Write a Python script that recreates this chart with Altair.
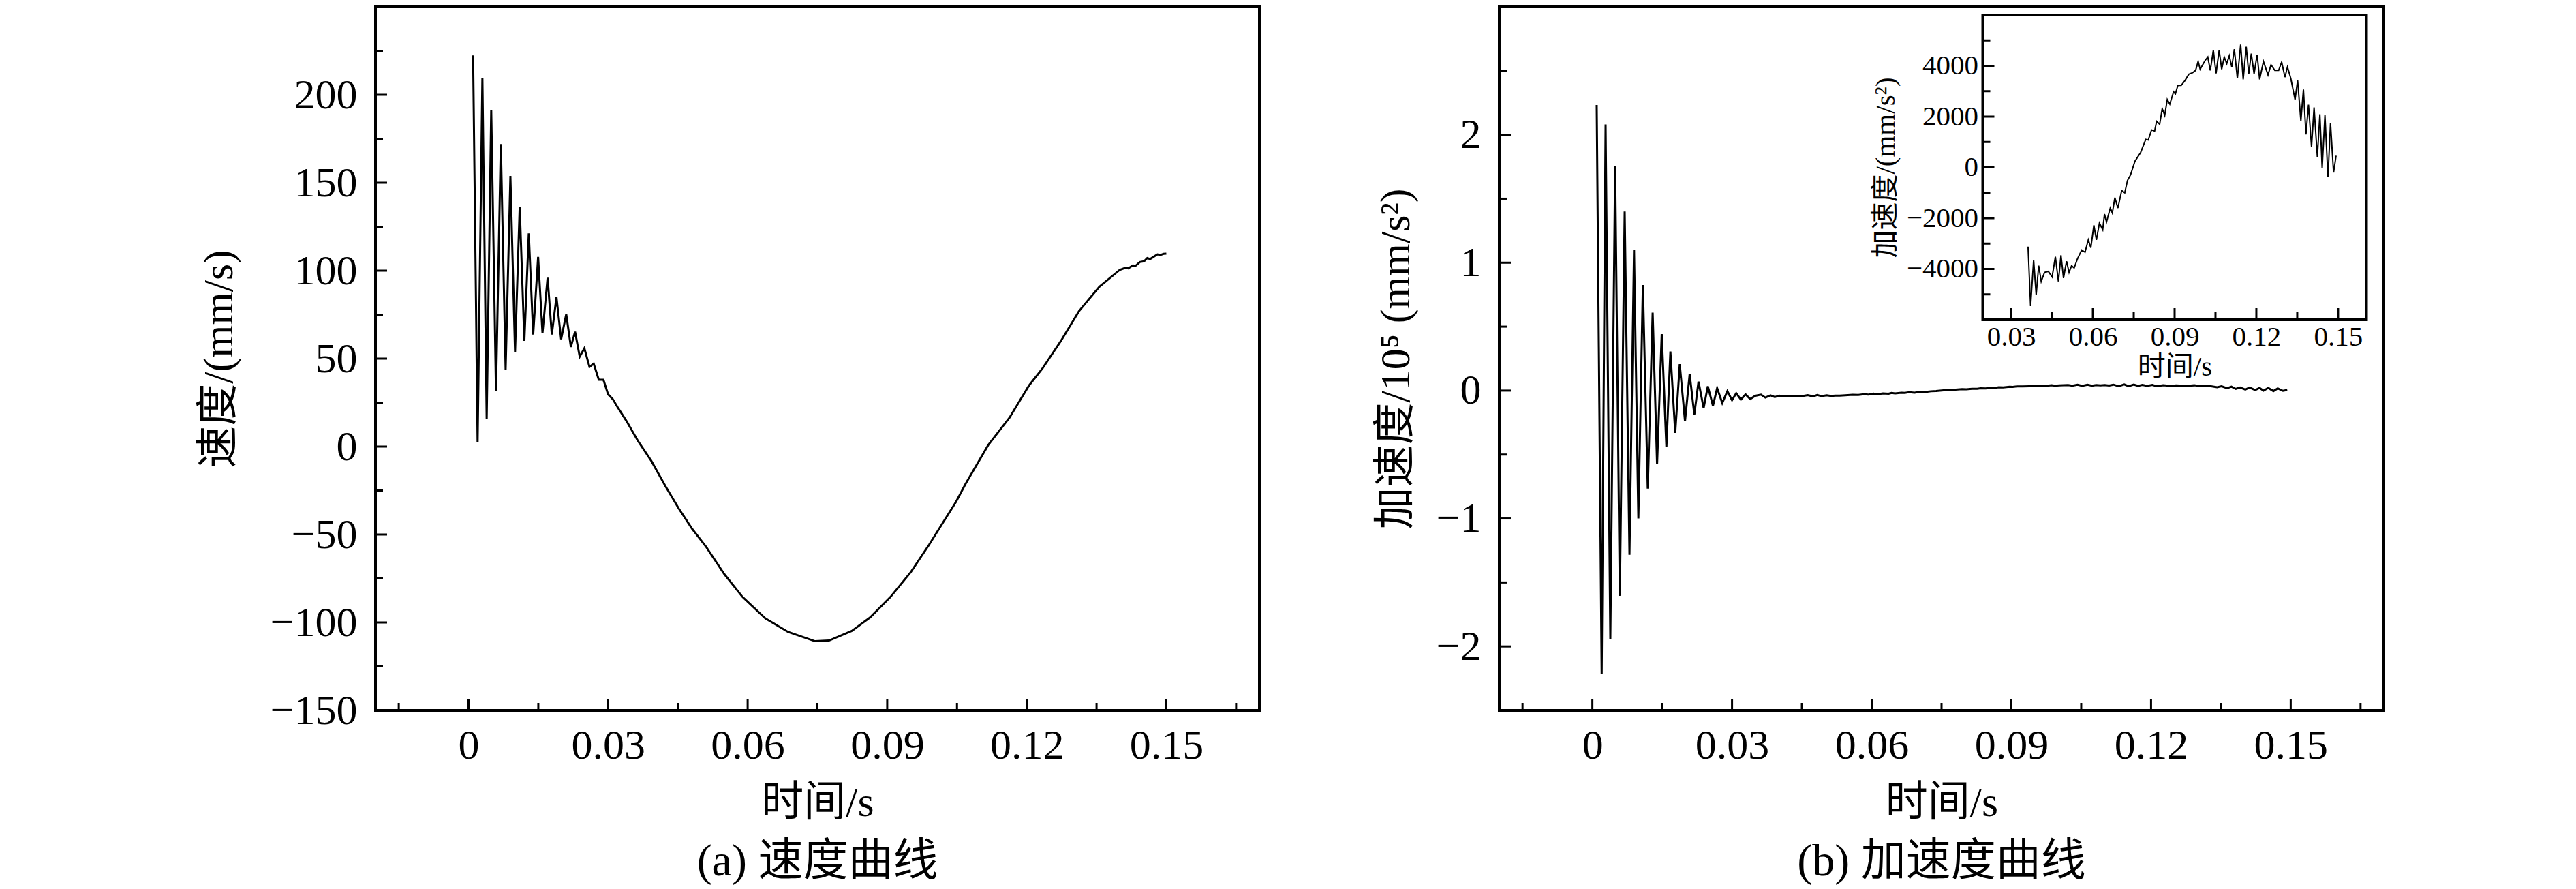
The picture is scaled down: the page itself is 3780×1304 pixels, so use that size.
import altair as alt
import pandas as pd

# ---------------- data ----------------
# (a) velocity, mm/s
vel_t = [0.00098, 0.00195, 0.00298, 0.0039, 0.00488, 0.0059, 0.00694, 0.00797, 0.0090, 0.0100,
         0.0110, 0.0120, 0.01295, 0.0139, 0.01496, 0.0159, 0.0170, 0.0179, 0.0189, 0.0199,
         0.0210, 0.0220, 0.0229, 0.0239, 0.0249, 0.0260, 0.0269, 0.0280, 0.0290, 0.0300,
         0.0310, 0.0320, 0.0340, 0.0364, 0.0393, 0.0423, 0.0452, 0.0481, 0.0511, 0.0550,
         0.0589, 0.0638, 0.0687, 0.0745, 0.0775, 0.0824, 0.0863, 0.0907, 0.0951, 0.0990,
         0.1019, 0.1048, 0.1068, 0.1117, 0.1163, 0.1205, 0.1234, 0.1273, 0.1312, 0.1356,
         0.1400, 0.1412, 0.1418, 0.1428, 0.1434, 0.1443, 0.1452, 0.1459, 0.1465, 0.1472,
         0.1481, 0.1487, 0.1494, 0.1500]
vel_v = [222.4, 2.3, 209.5, 15.7, 191.4, 31.4, 172.0, 43.7, 153.9, 53.8,
         136.2, 60.1, 121.2, 63.7, 107.8, 64.5, 96.0, 63.7, 85.0, 61.0,
         75.3, 56.6, 65.3, 51.1, 55.9, 45.3, 47.2, 38.0, 38.0, 29.7,
         27.0, 22.6, 14.3, 3.3, -8.2, -22.4, -35.3, -46.9, -57.1, -72.6,
         -85.5, -97.7, -105.4, -110.7, -110.3, -104.8, -97.2, -85.5, -71.3, -55.8,
         -43.6, -31.4, -21.4, 0.8, 16.5, 34.8, 44.5, 59.9, 76.9, 90.9,
         100.5, 101.6, 101.3, 103.0, 102.8, 104.9, 105.3, 107.2, 106.6, 107.8,
         109.3, 108.9, 109.6, 109.7]

# (b) acceleration, early oscillation, 10^5 mm/s^2
acc_t = [0.00093, 0.0020, 0.00284, 0.00386, 0.00489, 0.0059, 0.00694, 0.00797, 0.00895, 0.00988,
         0.01085, 0.0119, 0.01295, 0.0139, 0.0149, 0.0159, 0.01676, 0.0178, 0.01877, 0.0199,
         0.0209, 0.0219, 0.0228, 0.0239, 0.0248, 0.0259, 0.0268, 0.0279, 0.0290, 0.0300,
         0.0309, 0.0319, 0.0329, 0.0339, 0.0350]
acc_a = [2.233, -2.213, 2.08, -1.94, 1.755, -1.604, 1.40, -1.284, 1.097, -1.0,
         0.826, -0.767, 0.61, -0.575, 0.442, -0.441, 0.305, -0.331, 0.207, -0.24,
         0.13, -0.188, 0.07, -0.136, 0.034, -0.118, 0.019, -0.097, -0.005, -0.075,
         -0.02, -0.07, -0.03, -0.066, -0.04]

# inset: acceleration after 0.036 s, mm/s^2
ins_t = [0.03622, 0.03715, 0.03827, 0.0392, 0.04012, 0.04105, 0.04226, 0.04365, 0.04505, 0.04625,
         0.04737, 0.0483, 0.04923, 0.05034, 0.05127, 0.0522, 0.05313, 0.05433, 0.05591, 0.05712,
         0.05833, 0.05926, 0.06037, 0.0613, 0.06241, 0.06362, 0.06427, 0.06501, 0.0664, 0.06715,
         0.06808, 0.06919, 0.07059, 0.0717, 0.07272, 0.07384, 0.07542, 0.07755, 0.07941, 0.08033,
         0.08155, 0.08266, 0.0834, 0.08452, 0.08545, 0.08638, 0.08731, 0.08824, 0.08963, 0.09028,
         0.0912, 0.09241, 0.09381, 0.0952, 0.09659, 0.0977, 0.09864, 0.09938, 0.1003, 0.10124,
         0.10217, 0.1031, 0.10421, 0.10521, 0.10635, 0.10728, 0.10821, 0.10913, 0.11006, 0.11099,
         0.11192, 0.11303, 0.11424, 0.11517, 0.11628, 0.11721, 0.11814, 0.11916, 0.12028, 0.1212,
         0.1226, 0.12427, 0.12539, 0.12678, 0.12817, 0.12929, 0.13049, 0.13142, 0.13263, 0.1342,
         0.13514, 0.13634, 0.13727, 0.1382, 0.13913, 0.14025, 0.14118, 0.14238, 0.14331, 0.14415,
         0.14517, 0.14628, 0.14721, 0.14833, 0.14926]
ins_a = [-3120, -5462, -3650, -5020, -3871, -4490, -4136, -4092, -4313, -3517,
         -4490, -3456, -4357, -3694, -4136, -3871, -3960, -3606, -3252, -3341,
         -2855, -3164, -2280, -2855, -2192, -2457, -1838, -2148, -1600, -1794,
         -1193, -1600, -910, -999, -513, -292, 239, 592, 1105, 1078,
         1476, 1432, 1812, 1697, 2315, 2050, 2669, 2492, 2978, 2890,
         3226, 3226, 3420, 3668, 3729, 3818, 4171, 3862, 4039, 4216,
         4348, 3818, 4613, 3703, 4613, 3862, 4348, 4083, 4392, 3950,
         4657, 3508, 4834, 3464, 4746, 3685, 4481, 3685, 4437, 3464,
         4171, 3641, 4039, 3818, 3818, 4145, 3553, 3950, 3508, 2669,
         3420, 1830, 3067, 1300, 2466, 813, 2359, 415, 2094, -27,
         2050, -380, 1741, -203, 460]

# tick values
X_TICKS = [0, 0.03, 0.06, 0.09, 0.12, 0.15]
X_MINOR = [-0.015, 0.015, 0.045, 0.075, 0.105, 0.135, 0.165]
V_TICKS = [-150, -100, -50, 0, 50, 100, 150, 200]
V_MINOR = [-125, -75, -25, 25, 75, 125, 175, 225]
A_TICKS = [-2, -1, 0, 1, 2]
A_MINOR = [-1.5, -0.5, 0.5, 1.5, 2.5]
IX_TICKS = [0.03, 0.06, 0.09, 0.12, 0.15]
IX_MINOR = [0.045, 0.075, 0.105, 0.135]
IY_TICKS = [-4000, -2000, 0, 2000, 4000]
IY_MINOR = [-5000, -3000, -1000, 1000, 3000, 5000]

# ---------------- layout / style ----------------
FONT = "Liberation Serif, Noto Sans CJK SC"
W1, W2, H = 1297, 1298, 1032
TICK, MTICK = 17, 11
XDOM = [-0.02, 0.17]
VDOM = [-150, 250]
ADOM = [-2.5, 3]
IXDOM = [0.0196, 0.1604]
IYDOM = [-6000, 6000]
IX0, IX1, IYT, IYB = 709.5, 1272.5, 12, 459

vel_df = pd.DataFrame({"t": vel_t, "v": vel_v})
acc_df = pd.DataFrame({"t": acc_t + ins_t, "v": acc_a + [a / 1e5 for a in ins_a]})
ins_df = pd.DataFrame({"t": ins_t, "v": ins_a})

common_axis = dict(ticks=False, tickSize=0, domain=False, grid=False, labelFont=FONT,
                   labelColor="black", labelOverlap=False, labelFlush=False,
                   titleFont=FONT, titleFontWeight="normal", titleColor="black",
                   titleAlign="center", titleBaseline="middle")


def x_axis(width):
    return alt.Axis(values=X_TICKS, format=".2~f", labelFontSize=62, labelPadding=21,
                    title="时间/s", titleFontSize=62, titleX=width / 2, titleY=135,
                    **common_axis)


def y_axis(values, title, title_x):
    return alt.Axis(values=values, format="d", labelFontSize=62, labelPadding=27,
                    title=title, titleFontSize=62, titleX=title_x, titleY=H / 2,
                    titleAngle=270, **common_axis)


def panel(df, ydom, yticks, yminor, yaxis, xaxis):
    sx = alt.Scale(domain=XDOM, nice=False, zero=False)
    sy = alt.Scale(domain=ydom, nice=False, zero=False)
    X = alt.X("t:Q", scale=sx, axis=xaxis)
    Y = alt.Y("v:Q", scale=sy, axis=yaxis)
    line = alt.Chart(df).mark_line(color="black", strokeWidth=3).encode(x=X, y=Y)
    xt = alt.Chart(pd.DataFrame({"t": X_TICKS})).mark_rule(color="black", strokeWidth=3).encode(
        x=X, y=alt.value(H), y2=alt.value(H - TICK))
    xm = alt.Chart(pd.DataFrame({"t": X_MINOR})).mark_rule(color="black", strokeWidth=3).encode(
        x=X, y=alt.value(H), y2=alt.value(H - MTICK))
    yt = alt.Chart(pd.DataFrame({"v": yticks})).mark_rule(color="black", strokeWidth=3).encode(
        y=Y, x=alt.value(0), x2=alt.value(TICK))
    ym = alt.Chart(pd.DataFrame({"v": yminor})).mark_rule(color="black", strokeWidth=3).encode(
        y=Y, x=alt.value(0), x2=alt.value(MTICK))
    return alt.layer(line, xt, xm, yt, ym)


def caption(text):
    return alt.TitleParams(text=text, orient="bottom", anchor="middle", frame="group",
                           font=FONT, fontSize=66, fontWeight="normal", color="black",
                           offset=24)


# (a)
left = panel(vel_df, VDOM, V_TICKS, V_MINOR,
             y_axis(V_TICKS, "速度/(mm/s)", -230), x_axis(W1)
             ).properties(width=W1, height=H, title=caption("(a) 速度曲线"))

# (b) main
main_b = panel(acc_df, ADOM, A_TICKS, A_MINOR,
               y_axis(A_TICKS, "加速度/10⁵ (mm/s²)", -152), x_axis(W2))

# (b) inset
sxi = alt.Scale(domain=IXDOM, range=[IX0, IX1], nice=False, zero=False)
syi = alt.Scale(domain=IYDOM, range=[IYB, IYT], nice=False, zero=False)
ixaxis = alt.Axis(orient="bottom", offset=IYB - H, values=IX_TICKS, format=".2f",
                  labelFontSize=41, labelPadding=5, title="时间/s", titleFontSize=41,
                  titleX=(IX0 + IX1) / 2, titleY=69, **common_axis)
iyaxis = alt.Axis(orient="left", offset=-IX0, values=IY_TICKS, format="d",
                  labelFontSize=41, labelPadding=7, title="加速度/(mm/s²)", titleFontSize=41,
                  titleX=-142.5, titleY=(IYT + IYB) / 2, titleAngle=270, **common_axis)
XI = alt.X("t:Q", scale=sxi, axis=ixaxis)
YI = alt.Y("v:Q", scale=syi, axis=iyaxis)

frame = alt.Chart(pd.DataFrame({"t": [IXDOM[0]], "t2": [IXDOM[1]],
                                "v": [IYDOM[0]], "v2": [IYDOM[1]]})).mark_rect(
    fill="white", stroke="black", strokeWidth=4).encode(x=XI, x2="t2:Q", y=YI, y2="v2:Q")
ins_line = alt.Chart(ins_df).mark_line(color="black", strokeWidth=2).encode(x=XI, y=YI)
ixt = alt.Chart(pd.DataFrame({"t": IX_TICKS})).mark_rule(color="black", strokeWidth=3).encode(
    x=XI, y=alt.value(IYB), y2=alt.value(IYB - TICK))
ixm = alt.Chart(pd.DataFrame({"t": IX_MINOR})).mark_rule(color="black", strokeWidth=3).encode(
    x=XI, y=alt.value(IYB), y2=alt.value(IYB - MTICK))
iyt = alt.Chart(pd.DataFrame({"v": IY_TICKS})).mark_rule(color="black", strokeWidth=3).encode(
    y=YI, x=alt.value(IX0), x2=alt.value(IX0 + TICK))
iym = alt.Chart(pd.DataFrame({"v": IY_MINOR})).mark_rule(color="black", strokeWidth=3).encode(
    y=YI, x=alt.value(IX0), x2=alt.value(IX0 + MTICK))
inset = alt.layer(frame, ins_line, ixt, ixm, iyt, iym)

right = alt.layer(main_b, inset).resolve_scale(x="independent", y="independent").properties(
    width=W2, height=H, title=caption("(b) 加速度曲线"))

chart = alt.hconcat(left, right, spacing=165).properties(
    padding={"left": 280, "top": 0, "right": 0, "bottom": 0},
    background="white",
).configure_view(stroke="black", strokeWidth=4)

chart.save("out.html", embed_options={"renderer": "svg", "actions": False})
